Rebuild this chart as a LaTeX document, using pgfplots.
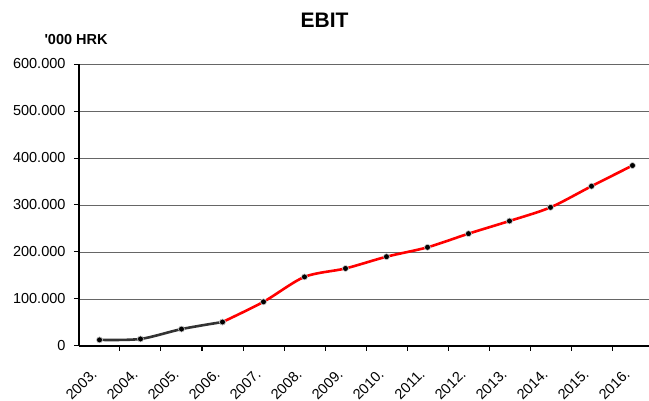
\documentclass[border=0pt]{standalone}
\usepackage{pgfplots}
\pgfplotsset{compat=1.18}
\usepackage{fontspec}
\setmainfont{Liberation Sans}
\begin{document}
\begin{tikzpicture}[x=1pt,y=1pt]
\useasboundingbox (0,0) rectangle (649,401);
\node[font=\fontsize{21}{24}\selectfont\bfseries] at (324.5,381) {EBIT};
\node[font=\fontsize{14.5}{17}\selectfont\bfseries, anchor=base west] at (41,356) {\textquotesingle000 HRK};
\begin{axis}[
  at={(79pt,55pt)}, anchor=south west,
  width=574pt, height=282pt, scale only axis,
  xmin=-0.5, xmax=13.5,
  ymin=0, ymax=600000,
  axis lines=left,
  axis line style={black, line width=1.2pt, -},
  xtick={0,...,13},
  xticklabels={2003.,2004.,2005.,2006.,2007.,2008.,2009.,2010.,2011.,2012.,2013.,2014.,2015.,2016.},
  minor xtick={0.5,1.5,...,12.5},
  major x tick style={draw=none},
  minor tick length=5pt,
  xticklabel style={rotate=45, anchor=north east, xshift=-6.4pt, yshift=6.4pt, font=\fontsize{14.5}{17}\selectfont},
  xticklabel shift=12pt,
  ytick={0,100000,200000,300000,400000,500000,600000},
  yticklabels={0,100.000,200.000,300.000,400.000,500.000,600.000},
  ymajorgrids=true,
  grid style={gray!80!black, line width=0.8pt},
  tick align=outside,
  major tick length=5pt,
  tick style={black, line width=1pt},
  yticklabel style={font=\fontsize{14.5}{17}\selectfont, xshift=-5pt},
  scaled y ticks=false,
  clip=false,
]
\addplot[color=black!80, line width=2.6pt, smooth, tension=0.5,
  mark=*, mark size=3pt, mark options={fill=black, draw=gray!40, line width=0.6pt}]
coordinates {
(0,13000)(1,15000)(2,36000)(3,51000)
};
\addplot[color=red, line width=2.6pt, smooth, tension=0.5,
  mark=*, mark size=3pt, mark options={fill=black, draw=gray!40, line width=0.6pt}]
coordinates {
(3,51000)(4,94000)(5,147000)(6,165000)(7,190000)(8,210000)(9,239000)(10,266000)(11,295000)(12,340000)(13,384000)
};
\end{axis}
\end{tikzpicture}
\end{document}
